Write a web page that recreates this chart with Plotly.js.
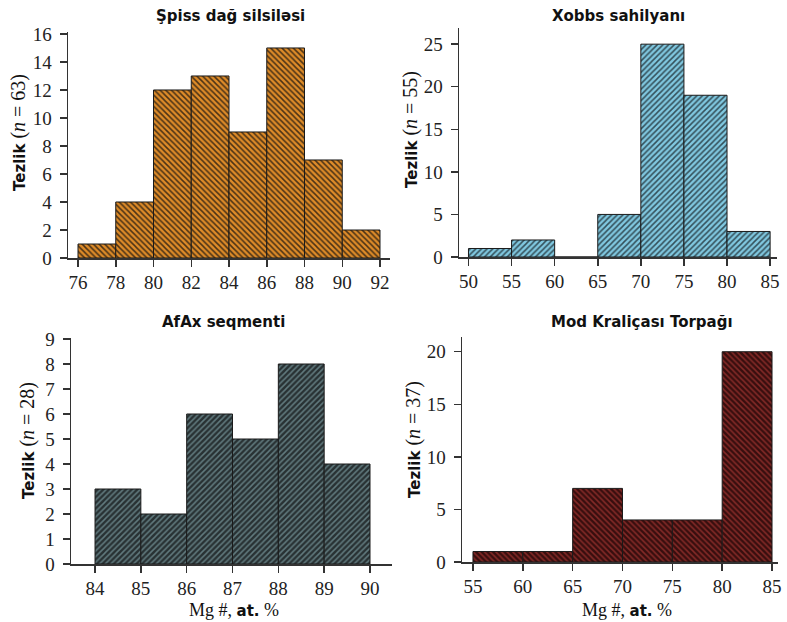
<!DOCTYPE html>
<html>
<head>
<meta charset="utf-8">
<script src="https://cdn.plot.ly/plotly-3.0.1.min.js"></script>
<style>html,body{margin:0;padding:0;background:#fff;}#chart{width:787px;height:622px;}</style>
</head>
<body>
<div id="chart"></div>
<script>
// ---- Data ----
const titles = ["Şpiss dağ silsiləsi", "Xobbs sahilyanı", "AfAx seqmenti", "Mod Kraliçası Torpağı"];
const sampleN = [63, 55, 28, 37];

const binStartsA = [76, 78, 80, 82, 84, 86, 88, 90];
const countsA    = [1, 4, 12, 13, 9, 15, 7, 2];
const binWidthA  = 2;

const binStartsB = [50, 55, 60, 65, 70, 75, 80];
const countsB    = [1, 2, 0, 5, 25, 19, 3];
const binWidthB  = 5;

const binStartsC = [84, 85, 86, 87, 88, 89];
const countsC    = [3, 2, 6, 5, 8, 4];
const binWidthC  = 1;

const binStartsD = [55, 60, 65, 70, 75, 80];
const countsD    = [1, 1, 7, 4, 4, 20];
const binWidthD  = 5;

const xTicksA = [76, 78, 80, 82, 84, 86, 88, 90, 92];
const xTicksB = [50, 55, 60, 65, 70, 75, 80, 85];
const xTicksC = [84, 85, 86, 87, 88, 89, 90];
const xTicksD = [55, 60, 65, 70, 75, 80, 85];
const yTicksA = [0, 2, 4, 6, 8, 10, 12, 14, 16];
const yTicksB = [0, 5, 10, 15, 20, 25];
const yTicksC = [0, 1, 2, 3, 4, 5, 6, 7, 8, 9];
const yTicksD = [0, 5, 10, 15, 20];

// ---- Styles ----
const W = 787, H = 622;
const px = v => v / W;
const py = v => 1 - v / H;
const SERIF = "Liberation Serif";
const SANSB = "font-family:DejaVu Sans;font-weight:bold;font-size:15px";

function barTrace(xs, ys, w, xa, ya, bg, fg, shape) {
  return {
    type: "bar", x: xs, y: ys, width: w, offset: 0,
    xaxis: xa, yaxis: ya, showlegend: false, hoverinfo: "skip",
    marker: {
      color: bg,
      line: {color: "#1a1a1a", width: 1},
      pattern: {shape: shape, bgcolor: bg, fgcolor: fg, size: 4, solidity: 0.38, fillmode: "replace"}
    }
  };
}

const data = [
  barTrace(binStartsA, countsA, binWidthA, "x", "y", "#DE8B28", "#4A3216", "\\"),
  barTrace(binStartsB, countsB, binWidthB, "x2", "y2", "#80C8E0", "#34505A", "/"),
  barTrace(binStartsC, countsC, binWidthC, "x3", "y3", "#283133", "#617A7E", "/"),
  barTrace(binStartsD, countsD, binWidthD, "x4", "y4", "#380E0E", "#842A27", "\\")
];

function axisBase(dom, rng, ticks, anchor) {
  return {
    domain: dom, range: rng, anchor: anchor, tickvals: ticks,
    showline: true, linecolor: "#333", linewidth: 1.5,
    ticks: "outside", ticklen: 7, tickwidth: 1.5, tickcolor: "#333",
    showgrid: false, zeroline: false, automargin: false, fixedrange: true,
    tickfont: {family: SERIF, size: 19, color: "#222"}
  };
}
function yAxis(dom, rng, ticks, anchor) {
  const a = axisBase(dom, rng, ticks, anchor);
  a.ticklabelstandoff = 4;
  return a;
}

function titleAnn(text, x, y) {
  return {text: "<b>" + text + "</b>", xref: "paper", yref: "paper", x: px(x), y: py(y),
    xanchor: "center", yanchor: "middle", showarrow: false,
    font: {family: "DejaVu Sans", size: 15, color: "#111"}};
}
function yTitleAnn(n, x, y) {
  return {text: '<span style="' + SANSB + '">Tezlik</span> (<i>n</i> = ' + n + ')',
    xref: "paper", yref: "paper", x: px(x), y: py(y), textangle: -90,
    xanchor: "center", yanchor: "middle", showarrow: false,
    font: {family: SERIF, size: 20, color: "#111"}};
}
function xTitleAnn(x) {
  return {text: 'Mg #, <span style="' + SANSB + '">at.</span> %',
    xref: "paper", yref: "paper", x: px(x), y: 0,
    xanchor: "center", yanchor: "bottom", showarrow: false,
    font: {family: SERIF, size: 18, color: "#111"}};
}

const layout = {
  width: W, height: H,
  margin: {l: 0, r: 0, t: 0, b: 0},
  paper_bgcolor: "#fff", plot_bgcolor: "rgba(0,0,0,0)",
  bargap: 0,
  xaxis:  axisBase([px(68), px(390)], [75.47, 92.53], xTicksA, "y"),
  yaxis:  yAxis([py(258), py(32)], [0, 16.14], yTicksA, "x"),
  xaxis2: axisBase([px(459), px(777)], [48.9, 85.8], xTicksB, "y2"),
  yaxis2: yAxis([py(257), py(28)], [0, 26.9], yTicksB, "x2"),
  xaxis3: axisBase([px(71), px(392)], [83.476, 90.48], xTicksC, "y3"),
  yaxis3: yAxis([py(564), py(338)], [0, 9.04], yTicksC, "x3"),
  xaxis4: axisBase([px(462), px(778)], [53.9, 85.6], xTicksD, "y4"),
  yaxis4: yAxis([py(562), py(337)], [0, 21.4], yTicksD, "x4"),
  annotations: [
    titleAnn(titles[0], 230, 16),
    titleAnn(titles[1], 618, 16),
    titleAnn(titles[2], 223, 322),
    titleAnn(titles[3], 642, 322),
    yTitleAnn(sampleN[0], 19, 133),
    yTitleAnn(sampleN[1], 410, 130),
    yTitleAnn(sampleN[2], 27, 441),
    yTitleAnn(sampleN[3], 413, 440),
    xTitleAnn(234),
    xTitleAnn(627)
  ]
};

Plotly.newPlot("chart", data, layout, {displayModeBar: false, staticPlot: true});
</script>
</body>
</html>
